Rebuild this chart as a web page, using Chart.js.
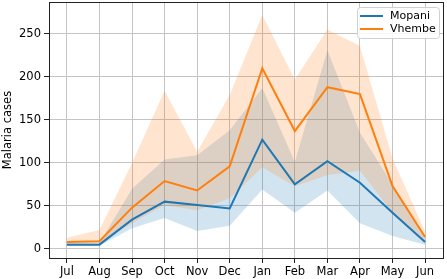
<!DOCTYPE html>
<html>
<head>
<meta charset="utf-8">
<script src="https://cdn.jsdelivr.net/npm/chart.js@4.4.1/dist/chart.umd.min.js"></script>
<style>
  html, body { margin: 0; padding: 0; background: #fff; }
  #wrap { width: 447px; height: 279px; }
</style>
</head>
<body>
<div id="wrap"><canvas id="chart"></canvas></div>
<script>
// Données
const months = ['Jul', 'Aug', 'Sep', 'Oct', 'Nov', 'Dec', 'Jan', 'Feb', 'Mar', 'Apr', 'May', 'Jun'];
const yTicks = [0, 50, 100, 150, 200, 250];

const mopani      = [5, 5, 34, 55, 51, 47, 127, 75, 102, 77, 42, 8];
const mopaniUpper = [7, 7, 70, 104, 109, 138, 187, 101, 231, 135, 75, 12];
const mopaniLower = [4, 4, 24, 36, 21, 27, 69, 42, 68, 30, 15, 5];

const vhembe      = [8, 9, 48, 79, 68, 96, 210, 137, 188, 180, 73, 14];
const vhembeUpper = [13, 22, 100, 184, 113, 179, 272, 197, 255, 236, 105, 20];
const vhembeLower = [6, 7, 30, 51, 45, 59, 95, 73, 86, 91, 42, 10];

const BLUE = '#1f77b4';
const ORANGE = '#ff7f0e';

function pts(arr) {
    return arr.map((v, i) => ({ x: i, y: v }));
}

function band(label, arr, color, fillTarget) {
    return {
        label: label,
        data: pts(arr),
        borderWidth: 0,
        pointRadius: 0,
        backgroundColor: color,
        fill: fillTarget,
        tension: 0
    };
}

function line(label, arr, color) {
    return {
        label: label,
        data: pts(arr),
        borderColor: color,
        borderWidth: 2,
        pointRadius: 0,
        fill: false,
        tension: 0
    };
}

// Cadre + légende façon matplotlib
const framePlugin = {
    id: 'frame',
    afterDraw(chart) {
        const ctx = chart.ctx;
        const a = chart.chartArea;
        ctx.save();
        ctx.strokeStyle = '#222';
        ctx.lineWidth = 1;
        ctx.strokeRect(Math.round(a.left) + 0.5, Math.round(a.top) + 0.5,
            Math.round(a.right - a.left), Math.round(a.bottom - a.top));

        // légende
        const bx = 357, by = 7, bw = 82, bh = 31;
        ctx.fillStyle = 'rgba(255,255,255,0.85)';
        ctx.strokeStyle = '#d0d0d0';
        ctx.beginPath();
        ctx.roundRect(bx + 0.5, by + 0.5, bw, bh, 3);
        ctx.fill();
        ctx.stroke();

        const items = [['Mopani', BLUE], ['Vhembe', ORANGE]];
        ctx.font = '11px "DejaVu Sans"';
        ctx.textBaseline = 'middle';
        items.forEach((it, i) => {
            const y = by + 9 + i * 13;
            ctx.strokeStyle = it[1];
            ctx.lineWidth = 2;
            ctx.beginPath();
            ctx.moveTo(bx + 3, y);
            ctx.lineTo(bx + 26, y);
            ctx.stroke();
            ctx.fillStyle = '#000';
            ctx.fillText(it[0], bx + 33, y);
        });
        ctx.restore();
    }
};

const tickFont = { family: 'DejaVu Sans', size: 11.5 };

new Chart(document.getElementById('chart').getContext('2d'), {
    type: 'line',
    data: {
        datasets: [
            line('Vhembe', vhembe, ORANGE),
            line('Mopani', mopani, BLUE),
            band('Vhembe upper', vhembeUpper, 'rgba(255,127,14,0.2)', 3),
            band('Vhembe lower', vhembeLower, 'rgba(255,127,14,0.2)', false),
            band('Mopani upper', mopaniUpper, 'rgba(31,119,180,0.2)', 5),
            band('Mopani lower', mopaniLower, 'rgba(31,119,180,0.2)', false)
        ]
    },
    options: {
        responsive: true,
        maintainAspectRatio: false,
        animation: false,
        layout: { padding: { top: 2, right: 4, left: 0, bottom: 0 } },
        plugins: {
            legend: { display: false },
            tooltip: { enabled: false },
            filler: { drawTime: 'beforeDatasetsDraw' }
        },
        scales: {
            x: {
                type: 'linear',
                min: -0.55,
                max: 11.55,
                afterBuildTicks: s => { s.ticks = months.map((m, i) => ({ value: i })); },
                afterFit: s => { s.height = 21; s.paddingLeft = 0; s.paddingRight = 0; },
                ticks: {
                    callback: v => months[v],
                    color: '#000',
                    font: tickFont,
                    padding: 2,
                    maxRotation: 0,
                    autoSkip: false
                },
                grid: { color: '#c4c4c4', lineWidth: 1, tickColor: '#222', tickLength: 5 },
                border: { display: false }
            },
            y: {
                min: -10.5,
                max: 287,
                afterBuildTicks: s => { s.ticks = yTicks.map(v => ({ value: v })); },
                afterFit: s => { s.width = 49; s.paddingTop = 0; s.paddingBottom = 0; },
                ticks: {
                    color: '#000',
                    font: tickFont,
                    padding: 3
                },
                grid: { color: '#c4c4c4', lineWidth: 1, tickColor: '#222', tickLength: 5 },
                border: { display: false },
                title: {
                    display: true,
                    text: 'Malaria cases',
                    color: '#000',
                    font: { family: 'DejaVu Sans', size: 11.5 },
                    padding: { top: 1, bottom: 0 }
                }
            }
        }
    },
    plugins: [framePlugin]
});
</script>
</body>
</html>
